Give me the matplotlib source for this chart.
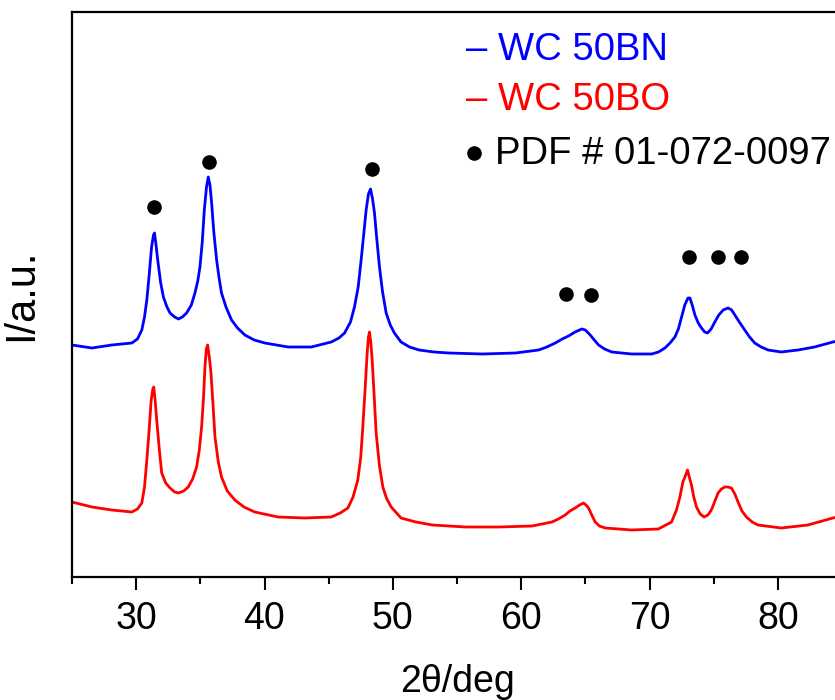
import matplotlib
matplotlib.use("Agg")
import matplotlib.pyplot as plt
from matplotlib.ticker import MultipleLocator

plt.rcParams['font.family'] = ['Liberation Sans', 'DejaVu Sans']

# ---- data (2theta in deg, intensity in arbitrary units) ----
bn_x = [25.0, 26.55, 28.1, 29.66, 30.1, 30.44, 30.65, 30.83, 31.0, 31.2, 31.35, 31.43,
        31.52, 31.68, 31.9, 32.12, 32.4, 32.64, 33.0, 33.29, 33.6, 33.93, 34.3, 34.58,
        34.8, 34.97, 35.15, 35.31, 35.48, 35.62, 35.75, 35.88, 36.05, 36.27, 36.45,
        36.65, 37.0, 37.43, 37.9, 38.47, 39.2, 40.02, 41.84, 43.65, 45.2, 45.8, 46.24,
        46.7, 47.01, 47.3, 47.53, 47.75, 47.92, 48.1, 48.26, 48.42, 48.57, 48.75,
        48.96, 49.2, 49.48, 49.8, 50.12, 50.64, 51.3, 52.04, 53.2, 54.37, 56.96,
        59.55, 61.36, 62.0, 62.66, 63.2, 63.69, 64.2, 64.73, 65.0, 65.38, 65.7, 66.03,
        66.5, 67.06, 68.61, 70.17, 70.7, 71.2, 71.6, 71.98, 72.25, 72.5, 72.75, 73.0,
        73.15, 73.35, 73.54, 73.8, 74.05, 74.3, 74.52, 74.8, 75.09, 75.4, 75.74,
        76.13, 76.4, 76.65, 77.0, 77.42, 77.8, 78.2, 78.7, 79.24, 80.27, 81.57,
        82.86, 84.29, 85.0]
bn_y = [232, 229, 232, 234, 238, 247, 260, 277, 300, 330, 342, 344,
        335, 317, 295, 280, 270, 264, 260, 258, 260, 264, 272, 284,
        296, 310, 335, 367, 390, 400, 392, 374, 345, 317, 300,
        284, 270, 257, 249, 242, 237, 234, 230, 230, 235, 239, 244,
        255, 270, 290, 317, 345, 367, 383, 388, 378, 364, 338,
        310, 285, 264, 252, 244, 235, 230, 227, 225, 224, 223,
        224, 227, 230, 234, 238, 241, 245, 248, 247, 242, 237, 232,
        228, 225, 223, 223, 225, 229, 234, 240, 248, 260, 272, 279,
        279, 271, 262, 254, 249, 245, 244, 248, 255, 262, 267,
        269, 267, 262, 255, 247, 240, 234, 230, 227, 225, 227,
        230, 235, 237]

bo_x = [25.0, 26.55, 28.1, 29.66, 30.1, 30.44, 30.65, 30.83, 31.0, 31.17, 31.3, 31.37,
        31.47, 31.6, 31.8, 31.99, 32.3, 32.64, 33.0, 33.29, 33.7, 34.06, 34.4, 34.71,
        34.92, 35.1, 35.25, 35.36, 35.47, 35.57, 35.7, 35.83, 36.0, 36.14, 36.4,
        36.65, 37.1, 37.69, 38.4, 39.24, 41.05, 43.13, 45.2, 45.9, 46.5, 46.9, 47.27,
        47.5, 47.66, 47.85, 48.0, 48.1, 48.18, 48.28, 48.39, 48.55, 48.7, 48.95,
        49.22, 49.5, 49.87, 50.64, 51.8, 53.08, 55.67, 58.26, 60.85, 62.4, 62.9,
        63.43, 63.8, 64.21, 64.55, 64.86, 65.05, 65.25, 65.5, 65.77, 66.1, 66.55,
        68.61, 70.68, 71.72, 72.1, 72.37, 72.6, 72.76, 72.96, 73.1, 73.27, 73.45,
        73.66, 73.95, 74.25, 74.55, 74.82, 75.1, 75.34, 75.6, 75.86, 76.1, 76.38,
        76.65, 76.9, 77.2, 77.55, 78.0, 78.45, 80.27, 82.34, 84.29, 85.0]
bo_y = [75, 70, 67, 65, 68, 74, 90, 117, 145, 177, 188, 190,
        178, 157, 128, 104, 94, 89, 85, 84, 86, 90, 98, 110,
        127, 150, 180, 210, 228, 232, 220, 204, 170, 140, 115,
        100, 86, 77, 70, 65, 60, 59, 60, 64, 69, 80, 97,
        120, 150, 190, 224, 240, 245, 235, 217, 180, 144, 112,
        90, 79, 70, 59, 55, 52, 50, 50, 51, 55, 58,
        62, 66, 69, 72, 74, 72, 69, 62, 55, 51, 49,
        47, 48, 55, 67, 80, 95, 100, 107, 100, 92, 80,
        70, 63, 60, 62, 67, 76, 84, 88, 90, 90, 89,
        83, 75, 66, 60, 55, 52, 49, 52, 59, 61]

pdf_x = [31.4, 35.67, 48.36, 63.49, 65.46, 73.1, 75.3, 77.16]
pdf_y = [370, 415, 408, 283, 282, 320, 320, 320]

series_labels = ["WC 50BN", "WC 50BO"]
pdf_label = "PDF # 01-072-0097"

# ---- figure ----
fig = plt.figure(figsize=(8.35, 7.0), dpi=100)
ax = fig.add_axes([72/835, 1 - 577/700, 770/835, 565/700])

ax.plot(bn_x, bn_y, color='#0000ff', lw=2.0)
ax.plot(bo_x, bo_y, color='#ff0000', lw=2.0)
ax.scatter(pdf_x, pdf_y, s=90, color='black', zorder=3)

ax.set_xlim(25, 85)
ax.set_ylim(0, 565)

ax.xaxis.set_major_locator(MultipleLocator(10))
ax.xaxis.set_minor_locator(MultipleLocator(5))
ax.tick_params(axis='x', which='major', direction='out', length=9, width=1.5,
               labelsize=27, pad=8)
ax.tick_params(axis='x', which='minor', direction='out', length=5, width=1.5)
ax.set_yticks([])

for side in ['left', 'top', 'bottom']:
    ax.spines[side].set_linewidth(1.6)
ax.spines['right'].set_visible(False)

ax.set_xlabel("2θ/deg", fontsize=27, labelpad=20)
ax.set_ylabel("I/a.u.", fontsize=30, labelpad=22)

# legend as text
ax.text(55.69, 517, "– " + series_labels[0], color='#0000ff', fontsize=27.5,
        ha='left', va='baseline')
ax.text(55.69, 467, "– " + series_labels[1], color='#ff0000', fontsize=27.5,
        ha='left', va='baseline')
ax.scatter([56.31], [424], s=90, color='black', zorder=3, clip_on=False)
ax.text(57.94, 413, pdf_label, color='black', fontsize=27.5,
        ha='left', va='baseline')

fig.savefig("out.png", dpi=100)
